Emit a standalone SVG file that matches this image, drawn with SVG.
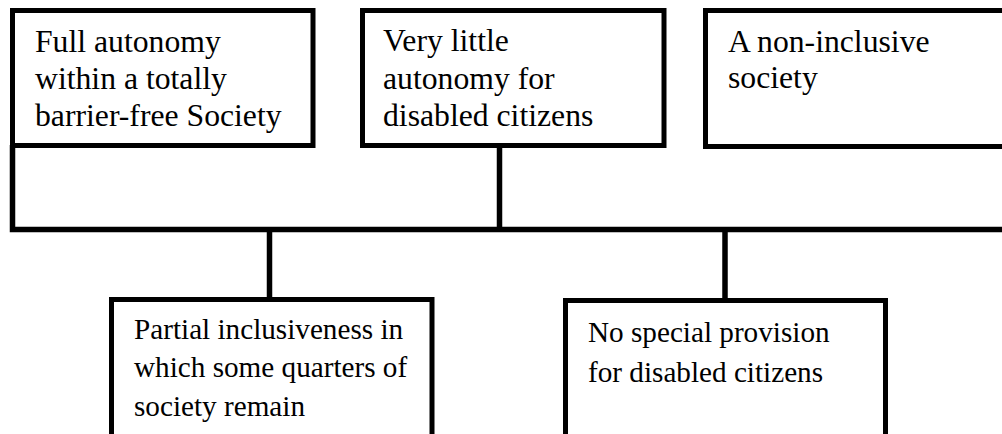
<svg xmlns="http://www.w3.org/2000/svg" width="1002" height="434" viewBox="0 0 1002 434">
<style>
.box{fill:#fff;stroke:#000;stroke-width:5;stroke-linejoin:miter}
.ln{fill:none;stroke:#000;stroke-width:5.5;stroke-linecap:butt}
.t{font-family:"Liberation Serif","Times New Roman",serif;fill:#000}
.top{font-size:31.7px}
.bot{font-size:29.2px}
</style>
<rect width="1002" height="434" fill="#fff"/>
<g id="connectors">
<path class="ln" d="M12.5,145 V229.5 H1004"/>
<path class="ln" d="M499.5,145 V229.5"/>
<path class="ln" d="M269.5,229.5 V300"/>
<path class="ln" d="M725,229.5 V300.5"/>
</g>
<g id="n1">
<rect class="box" x="12.5" y="10.5" width="300.5" height="135"/>
<text class="t top" x="35" y="51.5">Full autonomy</text>
<text class="t top" x="35" y="88.5">within a totally</text>
<text class="t top" x="35" y="125.5">barrier-free Society</text>
</g>
<g id="n2">
<rect class="box" x="362.5" y="10.5" width="301.5" height="135"/>
<text class="t top" x="383" y="51">Very little</text>
<text class="t top" x="383" y="88.5">autonomy for</text>
<text class="t top" x="383" y="126">disabled citizens</text>
</g>
<g id="n3">
<rect class="box" x="705.5" y="10.5" width="310" height="136"/>
<text class="t top" x="728" y="51.5">A non-inclusive</text>
<text class="t top" x="728" y="87.5">society</text>
</g>
<g id="n4">
<rect class="box" x="111.5" y="299.5" width="320.5" height="150"/>
<text class="t bot" x="134" y="338.5">Partial inclusiveness in</text>
<text class="t bot" x="134" y="377">which some quarters of</text>
<text class="t bot" x="134" y="415.5">society remain</text>
</g>
<g id="n5">
<rect class="box" x="565.5" y="300.5" width="320" height="150"/>
<text class="t bot" x="588" y="341.5">No special provision</text>
<text class="t bot" x="588" y="381.5">for disabled citizens</text>
</g>
</svg>
